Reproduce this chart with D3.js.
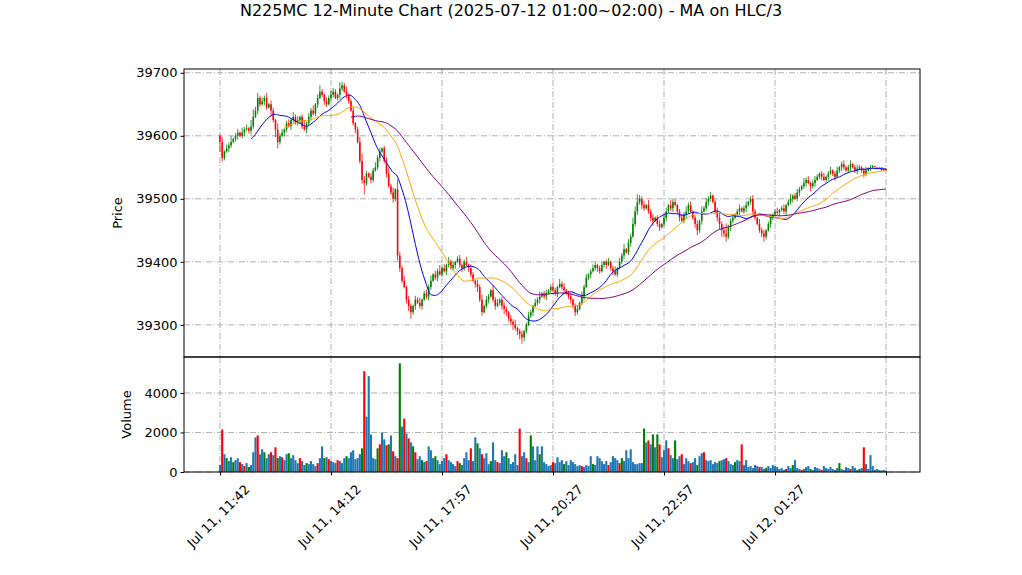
<!DOCTYPE html>
<html>
<head>
<meta charset="utf-8">
<script src="https://cdn.jsdelivr.net/npm/d3@7"></script>
<style>
body { margin: 0; background: #fff; font-family: "DejaVu Sans", sans-serif; }
.grid line { stroke: #b0b0b0; stroke-dasharray: 6,2,1,2; }
.axis text { font-size: 13px; fill: #000; font-family: "DejaVu Sans", sans-serif; }
</style>
</head>
<body>
<svg id="chart" width="1022" height="575"></svg>
<script>
// closes per bar
const closes = [
39590,39565,39575,39580,39585,39590,39595,39600,39605,39600,
39605,39610,39612,39608,39615,39630,39640,39660,39650,39655,
39660,39645,39650,39640,39625,39610,39590,39600,39605,39610,
39620,39615,39625,39630,39620,39625,39630,39615,39610,39620,
39630,39640,39635,39650,39660,39670,39665,39655,39650,39660,
39665,39670,39660,39665,39675,39680,39670,39665,39655,39640,
39620,39610,39590,39560,39530,39525,39540,39535,39530,39545,
39550,39565,39575,39580,39560,39540,39520,39510,39500,39515,
39410,39390,39370,39360,39340,39330,39320,39330,39340,39335,
39330,39340,39350,39345,39360,39370,39380,39375,39385,39380,
39390,39385,39395,39400,39390,39395,39400,39405,39395,39390,
39400,39395,39390,39380,39370,39365,39360,39340,39320,39330,
39340,39345,39355,39340,39330,39335,39340,39330,39325,39320,
39310,39305,39300,39295,39290,39285,39280,39290,39300,39315,
39320,39330,39335,39340,39345,39350,39345,39350,39355,39360,
39355,39350,39360,39365,39360,39355,39350,39345,39340,39330,
39320,39325,39335,39345,39360,39375,39380,39385,39390,39395,
39390,39385,39395,39400,39395,39400,39390,39385,39380,39390,
39400,39410,39420,39415,39430,39440,39460,39480,39495,39500,
39490,39485,39490,39480,39470,39465,39470,39460,39455,39460,
39470,39480,39490,39485,39495,39490,39480,39470,39465,39475,
39480,39490,39480,39470,39460,39450,39465,39480,39485,39495,
39500,39505,39495,39480,39470,39460,39450,39445,39440,39455,
39465,39470,39475,39480,39485,39480,39485,39490,39495,39500,
39480,39470,39460,39450,39445,39440,39450,39460,39470,39475,
39480,39478,39482,39485,39480,39490,39495,39500,39505,39500,
39510,39515,39520,39525,39530,39525,39520,39525,39530,39535,
39540,39535,39530,39535,39540,39545,39540,39535,39545,39550,
39555,39550,39545,39550,39555,39550,39545,39548,39550,39545,
39540,39545,39548,39550,39552,39550,39548,39550,39545,39548,39545
];
const firstOpen = 39600;
// wick extents above / below the body (price units / 2)
const wickHi = [
2,4,1,3,2,5,1,2,3,1, 4,2,3,1,5,6,3,4,2,3, 2,4,1,3,2,1,5,2,3,1, 2,3,1,4,2,3,1,2,5,1,
3,2,4,1,3,5,2,1,3,2, 4,3,2,1,5,3,2,4,1,2, 3,1,2,4,6,3,2,1,3,2, 4,2,3,1,2,3,5,2,4,1,
8,3,2,4,1,3,2,1,3,2, 4,1,2,3,2,4,1,3,2,5, 2,3,1,4,2,3,1,2,3,1, 2,4,1,3,2,1,3,2,4,1,
3,2,1,4,2,3,1,2,3,2, 1,3,2,4,1,2,3,1,2,3, 2,1,3,2,4,1,2,3,1,2, 3,2,1,4,2,3,1,2,3,1,
2,3,1,4,2,3,1,2,3,2, 1,2,3,1,2,3,1,2,4,1, 3,2,4,1,3,2,5,4,6,3, 2,3,1,4,2,3,1,2,3,1,
2,3,1,4,2,3,1,2,3,2, 4,2,3,1,2,3,1,4,2,3, 2,3,1,2,3,4,2,3,8,2, 2,3,1,2,3,1,2,3,1,2,
3,2,1,4,2,3,1,2,3,1, 2,3,1,2,3,1,2,4,1,2, 3,2,1,4,2,3,1,2,3,2, 1,2,3,1,2,3,1,2,3,1,
2,3,1,2,3,1,2,3,2,1, 2,3,1,2,1
];
const wickLo = [
8,3,2,1,3,2,1,2,3,1, 2,3,1,2,3,2,1,3,2,1, 3,2,1,4,2,6,5,2,1,3, 2,1,3,2,1,2,3,2,1,3,
2,3,1,2,3,1,2,3,2,1, 3,2,1,2,3,2,1,3,2,1, 2,3,1,2,3,9,2,1,3,2, 1,2,3,1,2,3,1,2,3,2,
4,3,2,1,3,4,5,2,3,1, 2,3,1,2,3,2,1,2,3,1, 2,1,3,2,1,2,3,1,2,3, 2,1,3,2,1,3,4,2,3,1,
2,3,1,2,3,1,2,3,4,3, 2,3,4,2,3,4,5,3,2,1, 2,3,1,2,3,1,2,3,1,2, 1,2,3,1,2,3,1,2,3,2,
3,2,1,2,3,1,2,3,1,2, 3,2,1,2,3,1,2,3,1,2, 1,2,3,1,2,3,1,2,3,2, 3,2,1,2,3,4,1,2,3,1,
2,3,1,2,3,1,2,3,1,2, 3,2,1,2,3,4,2,3,1,2, 3,2,1,2,3,4,5,3,4,2, 3,2,1,2,3,1,2,3,1,2,
3,2,1,2,3,4,2,1,3,2, 1,2,3,1,2,3,1,2,3,1, 2,3,1,2,3,1,4,2,3,1, 2,3,1,2,3,1,2,3,1,2,
3,2,1,2,3,1,2,3,1,2, 3,2,1,2,1
];
const volumes = [
350,2150,900,700,550,750,500,600,700,500,
400,300,450,250,350,1000,1750,1850,900,1150,
1000,700,900,1000,850,1250,700,800,750,600,
900,950,700,850,600,450,700,550,350,450,
400,550,400,300,450,700,1300,700,750,650,
550,500,450,600,550,450,700,800,700,1000,
1100,650,700,900,1200,5100,2800,4850,1900,700,
650,1200,1400,2000,1650,1350,1400,1850,1050,800,
700,5500,2300,2700,1950,1700,1500,1300,1000,650,
800,600,500,550,1300,1100,700,800,600,400,
550,700,900,600,500,400,300,550,450,350,
700,1000,600,1200,550,1750,1450,1200,900,700,
950,400,550,1500,600,500,450,1100,800,1000,
700,400,500,900,350,2200,800,1000,700,500,
1850,1300,600,1300,900,1300,500,400,300,350,
500,450,750,500,600,400,550,350,600,500,
400,300,350,300,250,350,300,800,400,350,
800,700,550,400,550,350,500,800,700,600,
450,700,550,1100,700,1150,500,400,400,450,
450,2200,1500,1600,1400,1900,1250,1900,1400,750,
1100,1600,1200,850,700,1600,650,800,900,400,
700,550,450,500,700,350,800,950,1000,600,
550,600,400,500,450,550,600,650,700,550,
400,350,500,600,550,1400,350,600,250,300,
200,350,300,250,250,150,200,300,200,350,
300,250,150,200,100,150,300,200,350,600,
200,150,100,150,250,300,150,100,250,200,
150,100,300,200,150,250,150,100,200,450,
150,100,250,200,150,300,200,100,150,200,
1250,400,150,850,300,100,150,100,80,100,60
];
const volRed = [1,9,11,17,23,25,28,36,44,49,53,65,72,75,78,80,83,85,88,93,102,107,113,118,125,135,138,150,163,175,180,193,198,202,208,212,218,228,235,243,255,262,271,284,290];
const volGreen = [3,6,13,20,26,31,39,47,57,64,71,76,81,87,91,97,108,116,122,129,140,144,155,168,181,191,195,197,205,215,225,232,246,258,266,279,288];
const tickIdx = [0, 50, 100, 150, 200, 250, 300];
const tickLabels = ['Jul 11, 11:42', 'Jul 11, 14:12', 'Jul 11, 17:57', 'Jul 11, 20:27', 'Jul 11, 22:57', 'Jul 12, 01:27', ''];
const maPeriods = [15, 30, 60];
const maColors = ['blue', 'orange', 'purple'];

const bars = closes.map((c, i) => {
    const o = i === 0 ? firstOpen : closes[i - 1];
    return { i, o, c, h: Math.max(o, c) + wickHi[i] * 2, l: Math.min(o, c) - wickLo[i] * 2, v: volumes[i] };
});

const svg = d3.select('#chart');
const L = 184, R = 920, T1 = 69, B1 = 357, B2 = 472;

const x = d3.scaleLinear().domain([-16.2, 315.3]).range([L, R]);
const y = d3.scaleLinear().domain([39249, 39706]).range([B1, T1]);
const yv = d3.scaleLinear().domain([0, 5820]).range([B2, B1]);
const step = x(1) - x(0);

// grids
const g1 = svg.append('g').attr('class', 'grid');
[39300, 39400, 39500, 39600, 39700].forEach(p => g1.append('line').attr('x1', L).attr('x2', R).attr('y1', y(p)).attr('y2', y(p)));
[0, 2000, 4000].forEach(p => g1.append('line').attr('x1', L).attr('x2', R).attr('y1', yv(p)).attr('y2', yv(p)));
tickIdx.forEach(t => {
    g1.append('line').attr('x1', x(t)).attr('x2', x(t)).attr('y1', T1).attr('y2', B1);
    g1.append('line').attr('x1', x(t)).attr('x2', x(t)).attr('y1', B1).attr('y2', B2);
});

// candles
const cg = svg.append('g');
bars.forEach(b => {
    const col = b.c >= b.o ? 'green' : 'red';
    cg.append('line').attr('x1', x(b.i)).attr('x2', x(b.i)).attr('y1', y(b.h)).attr('y2', y(b.l))
        .attr('stroke', col).attr('stroke-width', 0.8);
    const top = y(Math.max(b.o, b.c)), bot = y(Math.min(b.o, b.c));
    cg.append('rect').attr('x', x(b.i) - step * 0.35).attr('width', step * 0.7)
        .attr('y', top).attr('height', Math.max(0.8, bot - top)).attr('fill', col);
});

// moving averages on HLC/3
const hlc = bars.map(b => (b.h + b.l + b.c) / 3);
maPeriods.forEach((p, k) => {
    const pts = [];
    for (let i = p - 1; i < hlc.length; i++) pts.push([i, d3.mean(hlc.slice(i - p + 1, i + 1))]);
    svg.append('path').datum(pts)
        .attr('d', d3.line().x(d => x(d[0])).y(d => y(d[1])).curve(d3.curveMonotoneX))
        .attr('fill', 'none').attr('stroke', maColors[k]).attr('stroke-width', 1);
});

// volume
const vg = svg.append('g');
bars.forEach(b => {
    let col = '#1f77b4', w = step * 0.95;
    if (volRed.includes(b.i)) { col = 'red'; }
    else if (volGreen.includes(b.i)) { col = 'green'; }
    vg.append('rect').attr('x', x(b.i) - w / 2).attr('width', w)
        .attr('y', yv(b.v)).attr('height', B2 - yv(b.v)).attr('fill', col);
});

// frames
svg.append('rect').attr('x', L).attr('y', T1).attr('width', R - L).attr('height', B1 - T1).attr('fill', 'none').attr('stroke', '#000');
svg.append('rect').attr('x', L).attr('y', B1).attr('width', R - L).attr('height', B2 - B1).attr('fill', 'none').attr('stroke', '#000');

// axes
svg.append('g').attr('class', 'axis').attr('transform', `translate(${L},0)`)
    .call(d3.axisLeft(y).tickValues([39300, 39400, 39500, 39600, 39700]).tickSize(3.5).tickFormat(d3.format('d')))
    .call(a => a.select('.domain').remove());
svg.append('g').attr('class', 'axis').attr('transform', `translate(${L},0)`)
    .call(d3.axisLeft(yv).tickValues([0, 2000, 4000]).tickSize(3.5).tickFormat(d3.format('d')))
    .call(a => a.select('.domain').remove());
const xa = svg.append('g').attr('class', 'axis').attr('transform', `translate(0,${B2})`)
    .call(d3.axisBottom(x).tickValues(tickIdx).tickSize(3.5).tickFormat((d, i) => tickLabels[i]))
    .call(a => a.select('.domain').remove());
xa.selectAll('text').attr('text-anchor', 'middle').attr('y', 0).attr('dy', '0.35em')
    .attr('transform', 'translate(-2,44) rotate(-45)');

svg.append('text').attr('x', 122).attr('y', (T1 + B1) / 2).attr('transform', `rotate(-90,122,${(T1 + B1) / 2})`)
    .attr('text-anchor', 'middle').attr('font-size', 13).text('Price');
svg.append('text').attr('x', 131).attr('y', (B1 + B2) / 2).attr('transform', `rotate(-90,131,${(B1 + B2) / 2})`)
    .attr('text-anchor', 'middle').attr('font-size', 13).text('Volume');
svg.append('text').attr('x', 511).attr('y', 16).attr('text-anchor', 'middle').attr('font-size', 16)
    .text('N225MC 12-Minute Chart (2025-07-12 01:00~02:00) - MA on HLC/3');
</script>
</body>
</html>
